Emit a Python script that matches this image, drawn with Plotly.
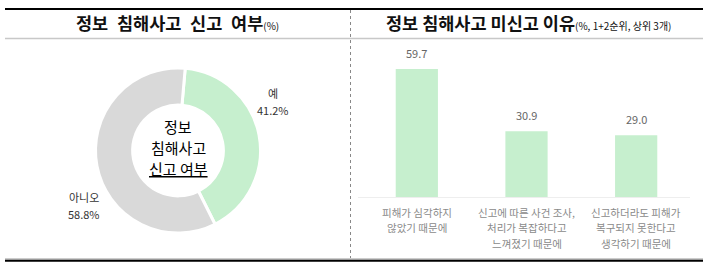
import plotly.graph_objects as go

# ---- data ----
pie_labels = ["예", "아니오"]
pie_values = [41.2, 58.8]
pie_colors = ["#c6efce", "#d9d9d9"]

bar_categories = [
    "피해가 심각하지<br>않았기 때문에",
    "신고에 따른 사건 조사,<br>처리가 복잡하다고<br>느껴졌기 때문에",
    "신고하더라도 피해가<br>복구되지 못한다고<br>생각하기 때문에",
]
bar_values = [59.7, 30.9, 29.0]
bar_cat_ids = ["c1", "c2", "c3"]

left_title = "정보\u2002침해사고\u2002신고\u2002여부"
left_title_sub = "(%)"
right_title = "정보 침해사고 미신고 이유"
right_title_sub = "(%, 1+2순위, 상위 3개)"
center_text = ["정보", "침해사고", "<u>신고 여부</u>"]

W, H = 710, 265
FONT = "Noto Sans CJK KR"

def py(p):  # pixel y -> paper y
    return 1 - p / H

def px(p):
    return p / W

fig = go.Figure()

fig.add_trace(go.Pie(
    labels=pie_labels, values=pie_values, hole=0.55, sort=False,
    direction="clockwise", rotation=5,
    marker=dict(colors=pie_colors, line=dict(color="white", width=3)),
    textinfo="none", hoverinfo="label+value", showlegend=False,
    domain=dict(x=[px(95), px(261)], y=[py(233), py(68)]),
))

fig.add_trace(go.Bar(
    x=bar_cat_ids, y=bar_values, width=0.385,
    marker=dict(color="#c6efce", line=dict(width=0)),
    xaxis="x", yaxis="y", showlegend=False, hoverinfo="y",
))

ann = []
# titles: bold main text, regular small subtitle
ann.append(dict(x=px(177), y=py(23), xref="paper", yref="paper",
                text=f"<b>{left_title}</b><span style='font-size:10px'>{left_title_sub}</span>",
                showarrow=False, font=dict(family=FONT, color="#111", size=17.5),
                xanchor="center", yanchor="middle"))
ann.append(dict(x=px(528), y=py(23), xref="paper", yref="paper",
                text=f"<b>{right_title}</b><span style='font-size:10px'>{right_title_sub}</span>",
                showarrow=False, font=dict(family=FONT, color="#111", size=17.5),
                xanchor="center", yanchor="middle"))
# pie labels (one annotation per line)
for (xx, yy), lab, val in zip([(273, 93), (84, 197)], pie_labels, pie_values):
    for k, t in enumerate([lab, f"{val:.1f}%"]):
        ann.append(dict(x=px(xx), y=py(yy + k * 17), xref="paper", yref="paper",
                        text=t, showarrow=False,
                        font=dict(family=FONT, size=11, color="#333"),
                        xanchor="center", yanchor="middle"))
# center text lines
for i, t in enumerate(center_text):
    ann.append(dict(x=px(178), y=py(126 + i * 21), xref="paper", yref="paper",
                    text=t, showarrow=False,
                    font=dict(family=FONT, size=15, color="#000"),
                    xanchor="center", yanchor="middle"))
# bar values
for c, v in zip(bar_cat_ids, bar_values):
    ann.append(dict(x=c, y=v, xref="x", yref="y", text=f"{v:.1f}", showarrow=False,
                    yshift=16, font=dict(family=FONT, size=11, color="#666"),
                    xanchor="center", yanchor="middle"))
# category labels, one annotation per line
for c, lab in zip(bar_cat_ids, bar_categories):
    for j, line in enumerate(lab.split("<br>")):
        ann.append(dict(x=c, y=py(212 + j * 15.5), xref="x", yref="paper", text=line,
                        showarrow=False, font=dict(family=FONT, size=10.5, color="#8a8a8a"),
                        xanchor="center", yanchor="middle"))

shapes = [
    dict(type="line", xref="paper", yref="paper", x0=px(5), x1=px(703), y0=py(9), y1=py(9),
         line=dict(color="#000", width=2)),
    dict(type="line", xref="paper", yref="paper", x0=px(5), x1=px(703), y0=py(38.5), y1=py(38.5),
         line=dict(color="#c8c8c8", width=1.5)),
    dict(type="line", xref="paper", yref="paper", x0=px(350.5), x1=px(350.5), y0=py(10), y1=py(258),
         line=dict(color="#888", width=1, dash="dot")),
    dict(type="line", xref="paper", yref="paper", x0=px(5), x1=px(703), y0=py(259), y1=py(259),
         line=dict(color="#999", width=1)),
    dict(type="line", xref="paper", yref="paper", x0=px(5), x1=px(703), y0=py(260.8), y1=py(260.8),
         line=dict(color="#000", width=2)),
    dict(type="line", xref="paper", yref="paper", x0=px(358), x1=px(690), y0=py(197.5), y1=py(197.5),
         line=dict(color="#eeeeee", width=1)),
]

fig.update_layout(
    width=W, height=H, margin=dict(l=0, r=0, t=0, b=0),
    paper_bgcolor="white", plot_bgcolor="white",
    font=dict(family=FONT),
    xaxis=dict(domain=[px(362), px(691)], type="category", range=[-0.5, 2.5],
               showticklabels=False, showgrid=False, zeroline=False, showline=False, fixedrange=True),
    yaxis=dict(domain=[py(198), py(40)], range=[0, 73.1], showticklabels=False,
               showgrid=False, zeroline=False, showline=False, fixedrange=True),
    annotations=ann, shapes=shapes,
)

fig.write_html("out.html")
